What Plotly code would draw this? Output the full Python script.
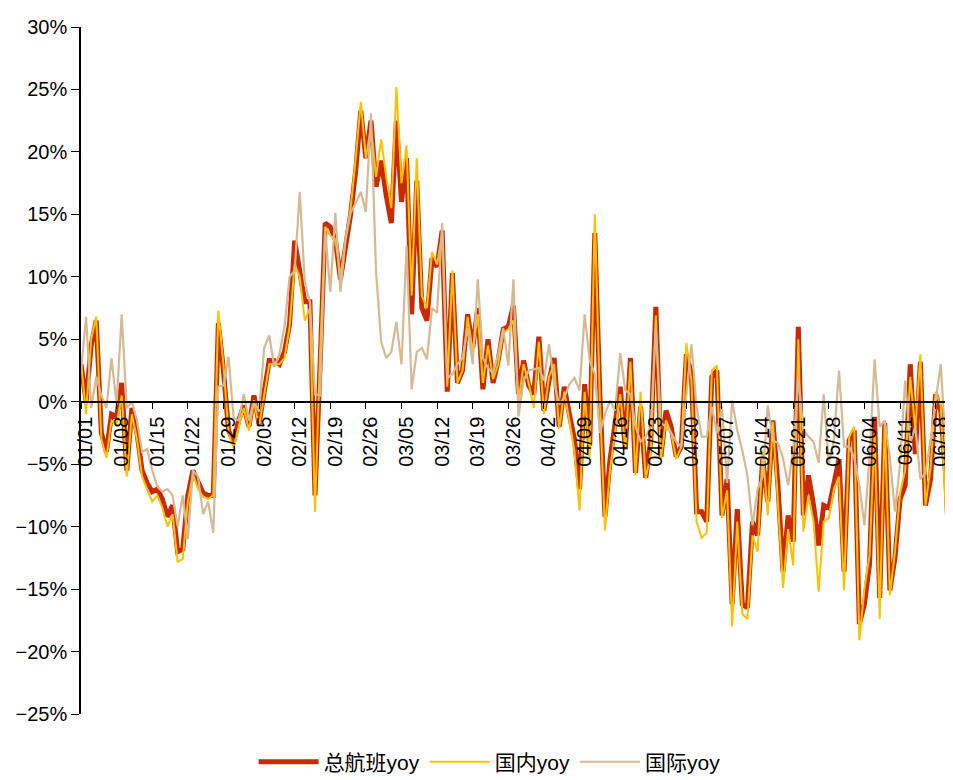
import plotly.graph_objects as go
import pandas as pd

dates = [d.strftime("%m/%d") for d in pd.date_range("2023-01-01", periods=173, freq="D")]
tick_labels = ["01/01", "01/08", "01/15", "01/22", "01/29", "02/05", "02/12", "02/19", "02/26",
               "03/05", "03/12", "03/19", "03/26", "04/02", "04/09", "04/16", "04/23", "04/30",
               "05/07", "05/14", "05/21", "05/28", "06/04", "06/11", "06/18"]

total_yoy = [3.0, 0.0, 4.5, 6.5, -2.5, -4.0, -1.0, -1.2, 1.5, -5.5,
             -0.5, -2.5, -5.5, -6.5, -7.2, -7.0, -7.8, -9.2, -8.3, -12.0,
             -11.8, -7.5, -5.5, -6.5, -7.3, -7.5, -7.5, 6.3, 2.5, -2.3,
             -3.2, -1.5, -0.3, -2.0, 0.5, -1.8, 1.0, 3.3, 3.3, 3.0,
             4.0, 6.2, 12.9, 10.5, 8.0, 8.0, -7.5, 3.0, 14.3, 14.0,
             13.0, 9.8, 12.5, 15.0, 18.5, 23.3, 19.5, 22.5, 17.2, 19.3,
             16.5, 14.3, 22.5, 16.0, 19.5, 7.0, 17.7, 7.5, 6.5, 11.5,
             10.8, 13.7, 0.8, 10.3, 1.5, 2.5, 7.0, 4.3, 7.5, 1.0,
             5.0, 1.5, 3.3, 5.8, 6.0, 7.7, 0.6, 3.3, 1.3, 0.6,
             5.2, -0.7, 1.7, 3.5, -2.0, 1.2, -1.0, -3.0, -7.0, 1.4,
             -3.5, 13.5, 0.5, -9.2, -4.6, -2.0, 1.2, -3.8, 3.5, -5.7,
             -0.4, -6.1, -3.1, 7.6, -4.4, -0.7, -2.0, -4.4, -3.6, 3.8,
             2.2, -8.8, -8.8, -9.6, 2.0, 2.5, -9.1, -6.2, -16.2, -8.6,
             -16.2, -16.5, -9.6, -10.7, -4.6, -8.0, -1.5, -6.7, -13.6, -9.1,
             -11.2, 6.0, -9.1, -5.9, -8.3, -11.5, -8.3, -8.5, -6.5, -4.6,
             -13.6, -3.1, -2.3, -17.8, -16.2, -13.0, -1.2, -15.7, -1.7, -15.1,
             -12.5, -7.8, -6.7, 3.0, -4.2, 3.2, -8.3, -6.2, 0.6, -0.7,
             -6.0, -15.7, 1.3]

domestic_yoy = [3.2, -1.0, 5.0, 6.8, -3.0, -4.5, -1.5, -1.8, 0.5, -6.0,
                -1.0, -3.0, -6.0, -7.0, -8.0, -7.5, -8.5, -10.0, -9.0, -12.8,
                -12.6, -8.0, -5.8, -7.0, -7.6, -7.8, -7.5, 7.3, 3.0, -2.5,
                -3.7, -2.0, -0.5, -2.3, 0.0, -2.0, 0.5, 3.0, 3.0, 3.0,
                3.5, 6.0, 11.0, 10.0, 6.5, 7.5, -8.8, 4.0, 14.0, 13.3,
                13.0, 10.0, 13.0, 15.5, 19.5, 24.0, 19.5, 22.0, 18.0, 21.0,
                18.0, 15.5, 25.2, 17.5, 20.5, 8.5, 19.5, 8.5, 7.5, 12.0,
                11.0, 13.5, 1.2, 10.5, 1.5, 2.5, 6.8, 4.0, 7.0, 1.5,
                4.5, 1.8, 3.0, 5.5, 5.8, 6.5, 0.0, 3.0, 1.5, -0.5,
                4.8, -1.0, 2.0, 3.0, -2.2, 0.8, -1.5, -4.0, -8.7, 0.8,
                -4.5, 15.0, 0.0, -10.3, -5.4, -2.5, 0.6, -3.8, 3.2, -5.9,
                0.8, -6.2, -4.1, 6.9, -4.6, -1.5, -2.5, -4.6, -3.6, 4.7,
                1.7, -9.6, -10.9, -10.5, 2.5, 2.9, -9.3, -7.1, -18.0, -9.6,
                -17.0, -17.4, -10.7, -12.0, -3.9, -9.1, -1.6, -8.1, -14.9, -10.2,
                -13.1, 5.0, -10.4, -7.5, -9.6, -15.2, -9.6, -9.3, -7.0, -6.0,
                -15.1, -2.8, -2.0, -19.1, -15.0, -12.3, -2.5, -17.4, -1.5, -15.5,
                -12.0, -7.3, -5.5, 2.0, -2.2, 3.8, -8.3, -5.3, 0.8, -0.3,
                -8.3, -17.4, 0.9]

intl_yoy = [2.5, 6.8, -0.5, 2.0, 0.5, -0.5, 3.5, -0.2, 7.0, -0.5,
            0.0, -1.5, -4.0, -3.8, -5.5, -6.8, -7.2, -7.0, -7.5, -10.0,
            -7.5, -11.0, -5.5, -6.0, -9.0, -8.0, -10.5, 1.2, 1.3, 3.6,
            -1.3, -1.5, 0.6, -1.5, 0.1, -0.8, 4.3, 5.3, 2.8, 3.8,
            6.0, 10.0, 10.5, 16.8, 9.5, 8.0, 0.6, 0.5, 13.8, 8.8,
            15.1, 8.8, 13.0, 15.1, 15.9, 16.8, 15.2, 23.1, 10.4, 4.8,
            3.5, 4.0, 6.4, 3.0, 12.5, 1.0, 4.0, 4.3, 3.4, 7.5,
            7.1, 14.3, 1.9, 2.2, 3.0, 3.5, 5.9, 3.0, 9.8, 3.5,
            2.7, 2.3, 3.8, 5.9, 2.9, 9.8, -1.2, 1.7, 2.5, 2.6,
            2.7, 1.7, 4.6, 1.5, -0.2, 0.3, 1.4, 1.9, 0.9, 7.0,
            3.3, 2.2, -2.5, -1.0, 0.1, -0.7, 3.9, 0.9, 0.6, -2.0,
            -3.2, -2.8, -2.0, 6.0, -1.7, -2.0, -2.5, -3.2, -3.6, 0.6,
            4.6, -0.4, -2.8, -2.8, -0.4, -2.5, -0.4, -6.5, 0.1, -2.3,
            -3.9, -5.9, -9.9, -7.0, -6.0, -0.3, -3.1, -3.3, -4.5, -6.7,
            -3.8, 2.0, -2.3, -2.8, -3.2, -4.9, 0.6, -5.0, -3.0, 2.5,
            -3.6, -3.6, -4.5, -6.7, -9.9, -4.5, 3.4, -2.0, -1.5, -4.5,
            -8.8, -5.0, 1.7, -3.3, -2.0, -6.2, -5.7, -3.0, 0.0, 3.0,
            -3.8, -3.0, -2.5]

series_names = ["总航班yoy", "国内yoy", "国际yoy"]
series_colors = ["#C82A04", "#FFC000", "#D6B992"]
series_widths = [5, 2, 2.2]
series_values = [total_yoy, domestic_yoy, intl_yoy]

n = min(len(dates), len(total_yoy), len(domestic_yoy), len(intl_yoy))

fig = go.Figure()
for name, color, width, vals in zip(series_names, series_colors, series_widths, series_values):
    fig.add_trace(go.Scatter(
        x=dates[:n], y=vals[:n], mode="lines", name=name,
        line=dict(color=color, width=width),
    ))

y_min, y_max = -25, 30
fig.update_layout(
    width=953, height=780,
    margin=dict(l=73, r=5, t=19, b=66),
    paper_bgcolor="white", plot_bgcolor="white",
    font=dict(family="Liberation Sans, Arial, Noto Sans CJK SC", size=20, color="black"),
    showlegend=True,
    legend=dict(orientation="h", x=0.467, xanchor="center", y=-0.07, yanchor="middle",
                font=dict(size=21, family="Liberation Sans, Noto Sans CJK SC"),
                itemwidth=60, traceorder="normal"),
    xaxis=dict(
        type="category", range=[0, n - 1], automargin=False,
        tickmode="array", tickvals=tick_labels, ticktext=tick_labels,
        tickangle=-90, ticks="outside", ticklen=6, tickcolor="black",
        showline=True, linecolor="black", linewidth=2,
        showgrid=False, zeroline=False,
        anchor="free", position=(0 - y_min) / (y_max - y_min),
        tickfont=dict(size=20), ticklabelshift=5,
    ),
    yaxis=dict(
        range=[y_min, y_max], dtick=5, tickmode="linear", automargin=False,
        ticksuffix="%", ticks="outside", ticklen=8, tickcolor="black",
        showline=True, linecolor="black", linewidth=1.5,
        showgrid=False, zeroline=False,
        tickfont=dict(size=20),
    ),
)

fig.write_html("out.html")
